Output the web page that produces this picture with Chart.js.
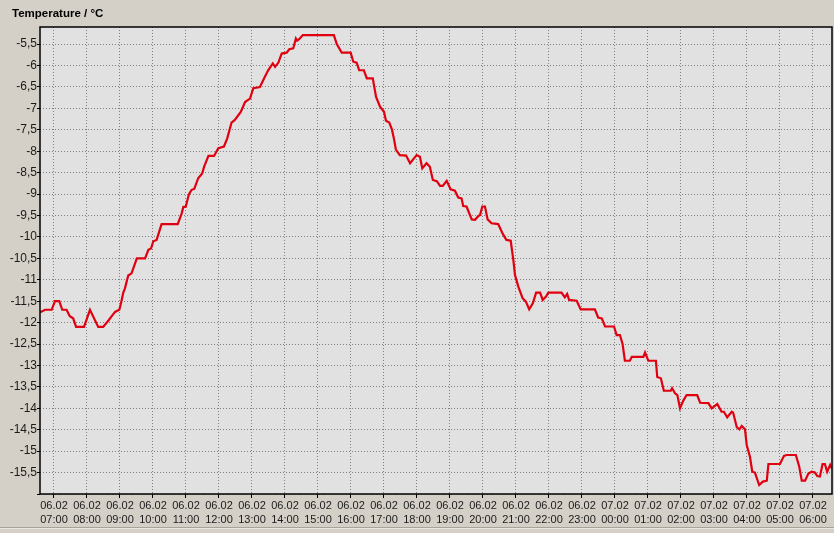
<!DOCTYPE html>
<html>
<head>
<meta charset="utf-8">
<script src="https://cdn.jsdelivr.net/npm/chart.js@4/dist/chart.umd.min.js"></script>
<style>
  html, body { margin: 0; padding: 0; background: #d4d0c8; }
  #wrap { position: relative; width: 834px; height: 533px; }
  #title { position: absolute; left: 12px; top: 6px; font: bold 11.5px "Liberation Sans", Arial, sans-serif; line-height: 14px; color: #000; }
  #sep { position: absolute; left: 0; top: 527px; width: 834px; height: 0; border-top: 1px solid #a7a39b; border-bottom: 1px solid #e8e6e0; }
</style>
</head>
<body>
<div id="wrap">
  <canvas id="tempChart" width="834" height="533"></canvas>
  <div id="title">Temperature / °C</div>
  <div id="sep"></div>
</div>
<script>
// hours counted from 06.02 00:00 (24 = 07.02 00:00)
const hours = [
  6.58, 6.73, 6.93, 7.03, 7.16, 7.25, 7.38, 7.48, 7.58, 7.67, 7.91, 8.09, 8.34, 8.49, 8.65, 8.75, 8.85, 8.98,
  9.03, 9.10, 9.15, 9.25, 9.35, 9.51, 9.76, 9.86, 9.94, 10.01, 10.11, 10.26, 10.75, 10.87, 10.92, 10.99,
  11.09, 11.17, 11.25, 11.37, 11.49, 11.55, 11.68, 11.85, 11.98, 12.15, 12.25, 12.38, 12.48, 12.66, 12.79,
  12.94, 13.04, 13.24, 13.39, 13.49, 13.63, 13.70, 13.80, 13.90, 14.05, 14.13, 14.25, 14.33, 14.37, 14.45,
  14.54, 15.48, 15.57, 15.72, 15.99, 16.07, 16.17, 16.25, 16.39, 16.48, 16.66, 16.76, 16.88, 17.00, 17.06,
  17.16, 17.24, 17.30, 17.36, 17.48, 17.67, 17.79, 17.99, 18.09, 18.16, 18.29, 18.39, 18.48, 18.60, 18.70,
  18.78, 18.90, 19.02, 19.15, 19.25, 19.35, 19.40, 19.50, 19.66, 19.76, 19.86, 19.91, 19.98, 20.06, 20.14,
  20.26, 20.46, 20.60, 20.71, 20.84, 20.92, 20.97, 21.07, 21.20, 21.30, 21.40, 21.51, 21.61, 21.73, 21.81,
  21.91, 21.98, 22.38, 22.48, 22.55, 22.61, 22.84, 22.96, 23.39, 23.49, 23.60, 23.70, 23.97, 24.05, 24.15,
  24.23, 24.30, 24.45, 24.51, 24.86, 24.91, 25.01, 25.24, 25.28, 25.39, 25.48, 25.69, 25.73, 25.82, 25.89,
  25.97, 26.07, 26.17, 26.49, 26.58, 26.83, 26.93, 27.00, 27.10, 27.23, 27.30, 27.40, 27.54, 27.58, 27.69,
  27.77, 27.84, 27.94, 27.99, 28.09, 28.16, 28.24, 28.37, 28.48, 28.60, 28.65, 29.00, 29.12, 29.20, 29.48,
  29.58, 29.66, 29.76, 29.86, 29.96, 30.06, 30.13, 30.21, 30.29, 30.36, 30.43, 30.52, 30.57
];
const temps = [
  -11.76, -11.7, -11.7, -11.5, -11.5, -11.7, -11.7, -11.85, -11.9, -12.1, -12.1, -11.7, -12.1, -12.1, -11.95, -11.85, -11.75, -11.7,
  -11.55, -11.3, -11.2, -10.9, -10.85, -10.5, -10.5, -10.3, -10.27, -10.1, -10.07, -9.7, -9.7, -9.45, -9.3, -9.3,
  -9.0, -8.9, -8.88, -8.63, -8.52, -8.36, -8.11, -8.11, -7.93, -7.89, -7.7, -7.33, -7.27, -7.08, -6.85,
  -6.77, -6.53, -6.5, -6.26, -6.11, -5.95, -6.03, -5.93, -5.72, -5.7, -5.62, -5.6, -5.37, -5.42, -5.37,
  -5.29, -5.29, -5.5, -5.7, -5.7, -5.91, -5.93, -6.11, -6.11, -6.3, -6.3, -6.73, -6.96, -7.08, -7.29,
  -7.33, -7.49, -7.7, -7.96, -8.09, -8.1, -8.28, -8.09, -8.13, -8.4, -8.28, -8.36, -8.67, -8.7, -8.81,
  -8.81, -8.69, -8.89, -8.92, -9.08, -9.1, -9.28, -9.29, -9.59, -9.6, -9.51, -9.49, -9.29, -9.29, -9.59,
  -9.68, -9.7, -9.93, -10.07, -10.09, -10.54, -10.89, -11.16, -11.43, -11.51, -11.69, -11.55, -11.3, -11.3, -11.47,
  -11.39, -11.3, -11.3, -11.41, -11.33, -11.47, -11.49, -11.69, -11.69, -11.88, -11.9, -12.09, -12.09, -12.29, -12.29,
  -12.5, -12.89, -12.89, -12.8, -12.8, -12.7, -12.89, -12.89, -13.27, -13.3, -13.59, -13.59, -13.53, -13.65, -13.69,
  -14.0, -13.82, -13.69, -13.69, -13.87, -13.88, -14.0, -13.96, -13.9, -14.08, -14.08, -14.21, -14.08, -14.1, -14.44,
  -14.49, -14.41, -14.49, -14.85, -15.13, -15.48, -15.5, -15.79, -15.71, -15.69, -15.3, -15.3, -15.11, -15.09, -15.09,
  -15.35, -15.69, -15.69, -15.52, -15.48, -15.5, -15.58, -15.59, -15.3, -15.3, -15.48, -15.32, -15.4
];
// hour ticks 06.02 07:00 .. 07.02 06:00
const hourTicks = [7, 8, 9, 10, 11, 12, 13, 14, 15, 16, 17, 18, 19, 20, 21, 22, 23, 24, 25, 26, 27, 28, 29, 30];
const xMin = 6.576, xMax = 30.576;
const yMin = -16, yMax = -5.1;

const points = hours.map((h, i) => ({ x: h, y: temps[i] }));

// plot background + black frame
const plotFrame = {
  id: 'plotFrame',
  beforeDraw(chart) {
    const { ctx, chartArea: a } = chart;
    ctx.save();
    ctx.fillStyle = '#e1e1e1';
    ctx.fillRect(a.left, a.top, a.right - a.left, a.bottom - a.top);
    ctx.restore();
  },
  afterDraw(chart) {
    const { ctx, chartArea: a } = chart;
    ctx.save();
    ctx.strokeStyle = '#000';
    ctx.lineWidth = 1.5;
    ctx.strokeRect(a.left, a.top, a.right - a.left, a.bottom - a.top);
    ctx.restore();
  }
};

const ctx = document.getElementById('tempChart').getContext('2d');
const chart = new Chart(ctx, {
  type: 'line',
  data: {
    datasets: [{
      data: points,
      borderColor: '#e00010',
      borderWidth: 2.2,
      pointRadius: 0,
      tension: 0,
      fill: false
    }]
  },
  options: {
    responsive: false,
    animation: false,
    devicePixelRatio: 1,
    layout: { padding: { left: 0, right: 2, top: 27, bottom: 0 } },
    plugins: {
      legend: { display: false },
      tooltip: { enabled: false },
      title: { display: false }
    },
    scales: {
      x: {
        type: 'linear',
        min: xMin,
        max: xMax,
        afterFit(scale) { scale.height = 39; },
        afterBuildTicks(scale) { scale.ticks = hourTicks.map(v => ({ value: v })); },
        ticks: {
          autoSkip: false,
          maxRotation: 0,
          padding: 1,
          color: '#1a1a1a',
          font: { family: 'Liberation Sans, Arial, sans-serif', size: 11, lineHeight: '14px' },
          callback(v) {
            const day = v < 24 ? '06.02' : '07.02';
            const hh = String(Math.round(v) % 24).padStart(2, '0');
            return [day, hh + ':00'];
          }
        },
        grid: {
          color: '#808080',
          lineWidth: 1,
          tickLength: 4,
          tickColor: '#000',
          tickBorderDash: []
        },
        border: { display: false, dash: [1, 2] }
      },
      y: {
        min: yMin,
        max: yMax,
        afterFit(scale) { scale.width = 40; },
        ticks: {
          stepSize: 0.5,
          includeBounds: false,
          autoSkip: false,
          padding: 0,
          color: '#1a1a1a',
          font: { family: 'Liberation Sans, Arial, sans-serif', size: 12 },
          callback(v) {
            if (v <= yMin) return '';
            return String(v).replace('.', ',');
          }
        },
        grid: {
          color: '#808080',
          lineWidth: 1,
          tickLength: 3,
          tickColor: '#000',
          tickBorderDash: []
        },
        border: { display: false, dash: [1, 2] }
      }
    }
  },
  plugins: [plotFrame]
});
</script>
</body>
</html>
